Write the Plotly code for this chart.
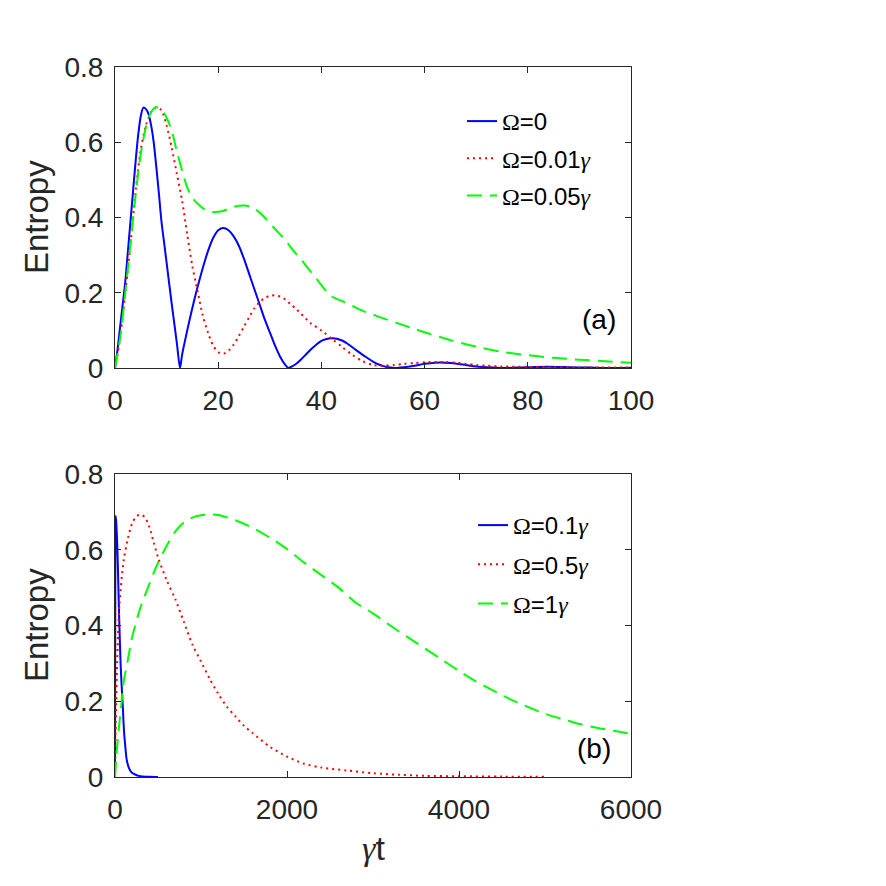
import plotly.graph_objects as go

# ---------------- Panel (a) data ----------------
t_a0 = [0, 0.5, 1, 1.5, 2, 2.5, 3, 3.5, 4, 4.5, 5, 5.5, 6, 6.5, 7, 7.5, 8, 8.5, 9, 9.5, 10, 11, 12, 12.6,
        13, 14, 15, 16, 17, 18, 19, 20, 21, 22, 23, 24, 25, 26, 27, 28, 29, 30, 31, 32, 33, 33.6,
        34, 35, 36, 37, 38, 39, 40, 41, 42, 43, 44, 45, 46, 47, 48, 49, 50, 51, 52, 53, 54.3,
        56, 58, 60, 62, 64, 66, 68, 70, 72, 75, 80, 84, 88, 92, 96, 100]
s_a0 = [0, 0.05, 0.11, 0.17, 0.23, 0.31, 0.39, 0.47, 0.55, 0.62, 0.67, 0.692, 0.688, 0.675, 0.645, 0.6, 0.535, 0.465, 0.39, 0.335, 0.28, 0.17, 0.065, 0,
        0.035, 0.1, 0.16, 0.215, 0.265, 0.31, 0.345, 0.366, 0.372, 0.366, 0.35, 0.325, 0.29, 0.25, 0.21, 0.17, 0.13, 0.095, 0.06, 0.03, 0.008, 0,
        0.002, 0.01, 0.022, 0.036, 0.05, 0.062, 0.072, 0.077, 0.079, 0.078, 0.073, 0.065, 0.055, 0.045, 0.035, 0.026, 0.017, 0.01, 0.005, 0.002, 0,
        0.002, 0.006, 0.011, 0.014, 0.014, 0.012, 0.008, 0.004, 0.002, 0, 0.002, 0.003, 0.002, 0.001, 0, 0.0005]

t_a1 = [0, 1, 2, 3, 4, 5, 6, 7, 8, 9, 10, 11, 12, 13, 14, 15, 16, 17, 18, 19, 20, 21, 22, 23, 24, 25,
        26, 27, 28, 29, 30, 31, 32, 33, 34, 35, 36, 38, 40, 42, 44, 46, 48, 50, 52, 54, 56, 58, 60,
        62, 64, 66, 68, 70, 72, 75, 80, 85, 90, 100]
s_a1 = [0, 0.08, 0.2, 0.33, 0.47, 0.58, 0.645, 0.68, 0.693, 0.685, 0.645, 0.585, 0.515, 0.445, 0.355, 0.27, 0.205, 0.14, 0.095, 0.06, 0.042, 0.038, 0.046, 0.062, 0.085, 0.11,
        0.135, 0.158, 0.175, 0.186, 0.192, 0.193, 0.19, 0.182, 0.17, 0.158, 0.145, 0.118, 0.1, 0.078, 0.056, 0.035, 0.018, 0.008, 0.006, 0.008, 0.011, 0.013, 0.015,
        0.016, 0.016, 0.014, 0.011, 0.008, 0.006, 0.004, 0.003, 0.002, 0.0015, 0.001]

t_a2 = [0, 1, 2, 3, 4, 5, 6, 7, 8, 9, 10, 11, 12, 13, 14, 15, 16, 17, 18, 19, 20, 21, 22, 23, 24, 25,
        26, 27, 28, 29, 30, 31, 32, 33, 34, 35, 36, 37, 38, 39, 40, 41, 42, 44, 46, 48, 50, 52, 55,
        58, 60, 65, 70, 75, 80, 85, 90, 95, 100]
s_a2 = [0, 0.08, 0.2, 0.33, 0.46, 0.57, 0.64, 0.68, 0.693, 0.688, 0.665, 0.63, 0.575, 0.525, 0.48, 0.452, 0.437, 0.425, 0.417, 0.414, 0.415, 0.418, 0.423, 0.428, 0.431, 0.432,
        0.43, 0.424, 0.413, 0.4, 0.385, 0.37, 0.355, 0.34, 0.322, 0.305, 0.29, 0.272, 0.255, 0.238, 0.22, 0.203, 0.19, 0.178, 0.165, 0.152, 0.142, 0.132, 0.118,
        0.104, 0.095, 0.074, 0.057, 0.043, 0.034, 0.027, 0.022, 0.018, 0.014]

# ---------------- Panel (b) data ----------------
t_b0 = [0, 4, 8, 15, 25, 35, 45, 55, 65, 75, 90, 105, 120, 136, 160, 190, 220, 260, 300, 400, 500]
s_b0 = [0, 0.6, 0.69, 0.67, 0.62, 0.54, 0.45, 0.37, 0.3, 0.25, 0.19, 0.12, 0.08, 0.046, 0.025, 0.013, 0.008, 0.004, 0.002, 0.0005, 0]

t_b1 = [0, 10, 25, 50, 100, 150, 200, 250, 300, 350, 400, 450, 500, 600, 700, 800, 900, 1000, 1100, 1200,
        1300, 1400, 1500, 1600, 1800, 2000, 2200, 2400, 2700, 3000, 3300, 3600, 4000, 4500, 5000]
s_b1 = [0, 0.15, 0.3, 0.45, 0.57, 0.63, 0.67, 0.688, 0.693, 0.685, 0.66, 0.62, 0.58, 0.52, 0.47, 0.41, 0.35, 0.305, 0.26, 0.22,
        0.186, 0.16, 0.135, 0.116, 0.08, 0.054, 0.035, 0.025, 0.017, 0.01, 0.006, 0.003, 0.002, 0.001, 0.0005]

t_b2 = [0, 25, 50, 78, 100, 150, 200, 300, 400, 500, 600, 700, 800, 900, 1000, 1100, 1200, 1400, 1600, 1800,
        2000, 2200, 2400, 2600, 2800, 3000, 3200, 3400, 3600, 3800, 4000, 4200, 4400, 4600, 4800, 5000,
        5200, 5400, 5600, 5800, 6000]
s_b2 = [0, 0.08, 0.14, 0.2, 0.25, 0.31, 0.37, 0.45, 0.51, 0.565, 0.61, 0.648, 0.672, 0.685, 0.691, 0.693, 0.692, 0.678, 0.658, 0.632,
        0.602, 0.566, 0.533, 0.5, 0.46, 0.432, 0.4, 0.37, 0.34, 0.31, 0.28, 0.252, 0.228, 0.205, 0.185, 0.167,
        0.153, 0.14, 0.13, 0.122, 0.114]

G = '<span style="font-family:Liberation Serif;font-style:italic">γ</span>'
O = '<span style="font-family:Liberation Serif">Ω</span>'
names_a = [O + "=0", O + "=0.01" + G, O + "=0.05" + G]
names_b = [O + "=0.1" + G, O + "=0.5" + G, O + "=1" + G]
xticks_a = [0, 20, 40, 60, 80, 100]
xticks_b = [0, 2000, 4000, 6000]
xticklabels_b = ["0", "2000", "4000", "6000"]
yticks = [0, 0.2, 0.4, 0.6, 0.8]
yticklabels = ["0", "0.2", "0.4", "0.6", "0.8"]

colors = ["#0000FF", "#FF0000", "#00FF00"]
dashes = ["solid", "2px,4px", "15px,8px"]
FONT = "Liberation Sans, Arial, Helvetica, sans-serif"
INK = "#262626"

fig = go.Figure()
series_a = [(t_a0, s_a0), (t_a1, s_a1), (t_a2, s_a2)]
series_b = [(t_b0, s_b0), (t_b1, s_b1), (t_b2, s_b2)]
for i, (tx, sy) in enumerate(series_a):
    fig.add_trace(go.Scatter(x=tx, y=sy, mode="lines", name=names_a[i],
                             line=dict(color=colors[i], width=2, dash=dashes[i], shape="spline", smoothing=0.8),
                             xaxis="x", yaxis="y", legend="legend", legendgroup="a%d" % i))
for i, (tx, sy) in enumerate(series_b):
    fig.add_trace(go.Scatter(x=tx, y=sy, mode="lines", name=names_b[i],
                             line=dict(color=colors[i], width=2, dash=dashes[i], shape="spline", smoothing=0.8),
                             xaxis="x2", yaxis="y2", legend="legend2", legendgroup="b%d" % i))

W = H = 886
xdom = [115 / W, 631 / W]
ydom_a = [1 - 368 / H, 1 - 67 / H]
ydom_b = [1 - 777 / H, 1 - 474 / H]

common = dict(showline=True, linecolor=INK, linewidth=1, mirror="ticks", ticks="inside",
              ticklen=6, tickcolor=INK, showgrid=False, zeroline=False, automargin=False,
              tickfont=dict(family=FONT, size=28, color=INK))

fig.update_layout(
    width=W, height=H, margin=dict(l=0, r=0, t=0, b=0, autoexpand=False),
    paper_bgcolor="white", plot_bgcolor="white",
    xaxis=dict(domain=xdom, anchor="y", range=[0, 100], tickvals=xticks_a, ticklabelstandoff=7, **common),
    yaxis=dict(domain=ydom_a, anchor="x", range=[0, 0.8], tickvals=yticks, ticktext=yticklabels, ticklabelstandoff=5, **common),
    xaxis2=dict(domain=xdom, anchor="y2", range=[0, 6000], tickvals=xticks_b, ticktext=xticklabels_b, ticklabelstandoff=7, **common),
    yaxis2=dict(domain=ydom_b, anchor="x2", range=[0, 0.8], tickvals=yticks, ticktext=yticklabels, ticklabelstandoff=5, **common),
    legend=dict(x=462 / W, y=1 - 99 / H, xanchor="left", yanchor="top", bgcolor="rgba(0,0,0,0)",
                font=dict(family=FONT, size=24, color="black"), traceorder="grouped", tracegroupgap=3),
    legend2=dict(x=473 / W, y=1 - 503 / H, xanchor="left", yanchor="top", bgcolor="rgba(0,0,0,0)",
                 font=dict(family=FONT, size=24, color="black"), traceorder="grouped", tracegroupgap=5),
    showlegend=True,
)

fig.add_annotation(text="Entropy", x=36 / W, y=1 - 217 / H, xref="paper", yref="paper", textangle=-90,
                   xanchor="center", yanchor="middle",
                   showarrow=False, font=dict(family=FONT, size=33, color=INK))
fig.add_annotation(text="Entropy", x=36 / W, y=1 - 625 / H, xref="paper", yref="paper", textangle=-90,
                   xanchor="center", yanchor="middle",
                   showarrow=False, font=dict(family=FONT, size=33, color=INK))
fig.add_annotation(text=G + "t", x=373 / W, y=1 - 848 / H, xref="paper", yref="paper",
                   xanchor="center", yanchor="middle",
                   showarrow=False, font=dict(family=FONT, size=34, color=INK))
fig.add_annotation(text="(a)", x=599 / W, y=1 - 320 / H, xref="paper", yref="paper",
                   xanchor="center", yanchor="middle",
                   showarrow=False, font=dict(family=FONT, size=28, color="black"))
fig.add_annotation(text="(b)", x=594 / W, y=1 - 748 / H, xref="paper", yref="paper",
                   xanchor="center", yanchor="middle",
                   showarrow=False, font=dict(family=FONT, size=28, color="black"))

fig.write_html("out.html")
